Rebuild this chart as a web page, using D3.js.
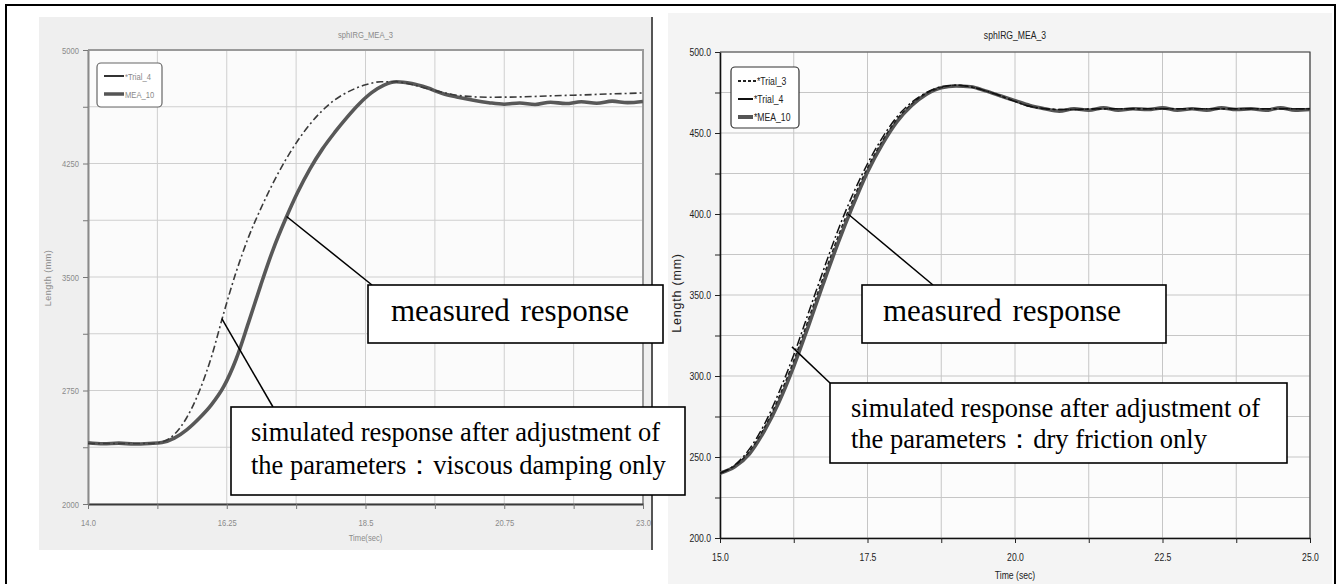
<!DOCTYPE html>
<html>
<head>
<meta charset="utf-8">
<script src="https://cdn.jsdelivr.net/npm/d3@7"></script>
<style>
body { margin: 0; background: #fff; }
svg { display: block; }
</style>
</head>
<body>
<svg id="fig" width="1341" height="584"></svg>
<script>
// ---- left chart (viscous damping) ----
const leftTitle = 'sphIRG_MEA_3';
const leftXTicks = [14.0, 15.125, 16.25, 17.375, 18.5, 19.625, 20.75, 21.875, 23.0];
const leftXLabels = ['14.0', '', '16.25', '', '18.5', '', '20.75', '', '23.0'];
const leftYTicks = [2000, 2375, 2750, 3125, 3500, 3875, 4250, 4625, 5000];
const leftYLabels = ['2000', '', '2750', '', '3500', '', '4250', '', '5000'];
const leftLegend = ['*Trial_4', 'MEA_10'];

const leftSimTime = [14.0, 14.5, 15.0, 15.2, 15.4, 15.6, 15.8, 16.0, 16.2, 16.4, 16.6, 16.8, 17.0, 17.2, 17.4, 17.6, 17.8, 18.0, 18.25, 18.5, 18.75, 19.0, 19.25, 19.5, 19.75, 20.0, 20.5, 21.0, 21.5, 22.0, 22.5, 23.0];
const leftSimLength = [2400, 2400, 2400, 2410, 2460, 2570, 2740, 2970, 3260, 3530, 3760, 3950, 4120, 4270, 4400, 4510, 4600, 4670, 4730, 4770, 4790, 4790, 4772, 4745, 4720, 4700, 4688, 4690, 4697, 4703, 4710, 4716];

const leftMeaTime = [14.0, 14.25, 14.5, 14.75, 15.0, 15.2, 15.4, 15.6, 15.8, 16.0, 16.2, 16.4, 16.6, 16.8, 17.0, 17.2, 17.4, 17.6, 17.8, 18.0, 18.2, 18.4, 18.6, 18.8, 19.0, 19.25, 19.5, 19.75, 20.0, 20.25, 20.5, 20.75, 21.0, 21.25, 21.5, 21.75, 22.0, 22.25, 22.5, 22.75, 23.0];
const leftMeaLength = [2405, 2398, 2402, 2396, 2400, 2406, 2435, 2490, 2565, 2655, 2775, 2955, 3195, 3445, 3680, 3880, 4060, 4215, 4345, 4455, 4555, 4645, 4718, 4768, 4790, 4778, 4750, 4712, 4688, 4668, 4652, 4642, 4650, 4640, 4655, 4646, 4658, 4648, 4662, 4652, 4660];

// ---- right chart (dry friction) ----
const rightTitle = 'sphIRG_MEA_3';
const rightXTicks = [15.0, 16.25, 17.5, 18.75, 20.0, 21.25, 22.5, 23.75, 25.0];
const rightXLabels = ['15.0', '', '17.5', '', '20.0', '', '22.5', '', '25.0'];
const rightYTicks = [200, 225, 250, 275, 300, 325, 350, 375, 400, 425, 450, 475, 500];
const rightYLabels = ['200.0', '', '250.0', '', '300.0', '', '350.0', '', '400.0', '', '450.0', '', '500.0'];
const rightLegend = ['*Trial_3', '*Trial_4', '*MEA_10'];

const rightSimTime = [15.0, 15.25, 15.5, 15.75, 16.0, 16.25, 16.5, 16.75, 17.0, 17.25, 17.5, 17.75, 18.0, 18.25, 18.5, 18.75, 19.0, 19.25, 19.5, 19.75, 20.0, 20.25, 20.5, 20.75, 21.0, 21.5, 22.0, 22.5, 23.0, 23.5, 24.0, 24.5, 25.0];
const rightTrial3 = [240, 244.5, 253.5, 268, 287, 309.5, 335, 361, 386, 408.5, 428.5, 445, 458.5, 468, 474.5, 478, 479.5, 478.5, 476, 473, 469.5, 466.5, 465, 464.5, 464.5, 465, 465, 465, 465, 465, 465, 465, 465];
const rightTrial4 = [240, 245, 255, 270, 290, 313, 339, 365, 390, 412, 431, 447, 460, 469, 475, 478.5, 479.5, 478.5, 476, 473, 469.5, 466.5, 465, 464.5, 464.5, 465, 465, 465, 465, 465, 465, 465, 465];

const rightMeaTime = [15.0, 15.25, 15.5, 15.75, 16.0, 16.25, 16.5, 16.75, 17.0, 17.25, 17.5, 17.75, 18.0, 18.25, 18.5, 18.75, 19.0, 19.25, 19.5, 19.75, 20.0, 20.25, 20.5, 20.75, 21.0, 21.25, 21.5, 21.75, 22.0, 22.25, 22.5, 22.75, 23.0, 23.25, 23.5, 23.75, 24.0, 24.25, 24.5, 24.75, 25.0];
const rightMea = [240, 244, 252, 266, 284, 306, 331, 357, 382, 405, 426, 443, 457, 467, 474, 478, 479, 478.5, 476, 473, 470, 467, 465, 463.5, 465, 464, 465.5, 464, 465, 464.5, 465.5, 464, 465, 464, 465.5, 464.5, 465, 464, 465.5, 464, 464.5];

const serif = '"Liberation Serif", "Times New Roman", serif';
const sans = '"Liberation Sans", Arial, sans-serif';

const svg = d3.select('#fig');

// outer frame
svg.append('rect')
    .attr('x', 6).attr('y', 5).attr('width', 1329).attr('height', 600)
    .attr('fill', 'none').attr('stroke', '#000').attr('stroke-width', 2);

function pairs(xs, ys) {
    return xs.map((t, i) => [t, ys[i]]);
}

// squeeze text horizontally to mimic the narrow plot font
function condense(sel, k) {
    sel.each(function () {
        const len = this.getComputedTextLength();
        if (len > 0) {
            d3.select(this)
                .attr('textLength', len * k)
                .attr('lengthAdjust', 'spacingAndGlyphs');
        }
    });
}

function drawPanel(p) {
    const g = svg.append('g');
    g.append('rect')
        .attr('x', p.bg[0]).attr('y', p.bg[1])
        .attr('width', p.bg[2]).attr('height', p.bg[3])
        .attr('fill', p.bgFill);

    const x = d3.scaleLinear().domain(p.xDomain).range([p.plot.x0, p.plot.x1]);
    const y = d3.scaleLinear().domain(p.yDomain).range([p.plot.y1, p.plot.y0]);
    const h = p.plot.y1 - p.plot.y0;
    const w = p.plot.x1 - p.plot.x0;

    g.append('rect')
        .attr('x', p.plot.x0).attr('y', p.plot.y0)
        .attr('width', w).attr('height', h)
        .attr('fill', p.plotFill);

    // grid
    g.append('g').selectAll('line').data(p.xTicks).join('line')
        .attr('x1', d => x(d)).attr('x2', d => x(d))
        .attr('y1', p.plot.y0).attr('y2', p.plot.y1)
        .attr('stroke', p.gridColor).attr('stroke-width', 1);
    g.append('g').selectAll('line').data(p.yTicks).join('line')
        .attr('x1', p.plot.x0).attr('x2', p.plot.x1)
        .attr('y1', d => y(d)).attr('y2', d => y(d))
        .attr('stroke', p.gridColor).attr('stroke-width', 1);

    // frame top/right
    g.append('path')
        .attr('d', `M${p.plot.x0},${p.plot.y0}H${p.plot.x1}V${p.plot.y1}`)
        .attr('fill', 'none').attr('stroke', p.frameColor).attr('stroke-width', p.frameWidth);

    // axes
    const xa = g.append('g')
        .attr('transform', `translate(0,${p.plot.y1})`)
        .call(d3.axisBottom(x).tickValues(p.xTicks)
            .tickFormat((d, i) => p.xLabels[i]).tickSize(5).tickSizeOuter(0).tickPadding(p.xPad));
    const ya = g.append('g')
        .attr('transform', `translate(${p.plot.x0},0)`)
        .call(d3.axisLeft(y).tickValues(p.yTicks)
            .tickFormat((d, i) => p.yLabels[i]).tickSize(5).tickSizeOuter(0).tickPadding(4));
    xa.select('.domain').attr('stroke', p.xAxisColor).attr('stroke-width', p.xAxisWidth);
    ya.select('.domain').attr('stroke', p.yAxisColor).attr('stroke-width', p.yAxisWidth);
    [xa, ya].forEach(a => {
        a.selectAll('.tick line').attr('stroke', p.tickColor);
        a.selectAll('.tick text')
            .attr('fill', p.textColor)
            .style('font-family', sans)
            .style('font-size', p.fontSize + 'px')
            .call(condense, p.squeeze);
    });

    // titles
    g.append('text')
        .attr('x', (p.plot.x0 + p.plot.x1) / 2).attr('y', p.titleY)
        .attr('text-anchor', 'middle')
        .attr('fill', p.textColor)
        .style('font-family', sans).style('font-size', p.fontSize + 'px')
        .text(p.title)
        .call(condense, p.squeeze);
    g.append('text')
        .attr('x', (p.plot.x0 + p.plot.x1) / 2).attr('y', p.xTitleY)
        .attr('text-anchor', 'middle')
        .attr('fill', p.textColor)
        .style('font-family', sans).style('font-size', p.fontSize + 'px')
        .text(p.xTitle)
        .call(condense, p.squeeze);
    g.append('text')
        .attr('transform', `translate(${p.yTitleX},${p.yTitleY}) rotate(-90)`)
        .attr('text-anchor', 'middle')
        .attr('fill', p.textColor)
        .style('font-family', sans).style('font-size', p.yTitleSize + 'px')
        .style('letter-spacing', p.yTitleSpacing + 'px')
        .text('Length (mm)');

    // series
    const line = d3.line().x(d => x(d[0])).y(d => y(d[1])).curve(d3.curveMonotoneX);
    const clipId = 'clip' + p.id;
    g.append('clipPath').attr('id', clipId).append('rect')
        .attr('x', p.plot.x0).attr('y', p.plot.y0).attr('width', w).attr('height', h);
    p.series.forEach(s => {
        g.append('path')
            .datum(s.data)
            .attr('clip-path', `url(#${clipId})`)
            .attr('d', line)
            .attr('fill', 'none')
            .attr('stroke', s.color)
            .attr('stroke-width', s.width)
            .attr('stroke-dasharray', s.dash || null)
            .attr('stroke-linejoin', 'round');
    });

    // legend
    const lg = p.legend;
    g.append('rect')
        .attr('x', lg.x).attr('y', lg.y).attr('width', lg.w).attr('height', lg.h)
        .attr('rx', 4).attr('fill', '#fff')
        .attr('stroke', lg.stroke).attr('stroke-width', 1.2);
    lg.items.forEach((it, i) => {
        const yy = lg.y + lg.first + i * lg.step;
        g.append('line')
            .attr('x1', lg.x + 7).attr('x2', lg.x + 7 + it.len)
            .attr('y1', yy).attr('y2', yy)
            .attr('stroke', it.color).attr('stroke-width', it.width)
            .attr('stroke-dasharray', it.dash || null);
        g.append('text')
            .attr('x', lg.x + 8 + it.len).attr('y', yy + 4)
            .attr('fill', p.textColor)
            .style('font-family', sans).style('font-size', lg.fontSize + 'px')
            .text(it.label)
            .call(condense, p.squeeze);
    });

    return { x, y };
}

function drawNote(scales, n) {
    const g = svg.append('g');
    g.append('line')
        .attr('x1', scales.x(n.anchor[0])).attr('y1', scales.y(n.anchor[1]))
        .attr('x2', n.end[0]).attr('y2', n.end[1])
        .attr('stroke', '#000').attr('stroke-width', 1.5);
    g.append('rect')
        .attr('x', n.box[0]).attr('y', n.box[1]).attr('width', n.box[2]).attr('height', n.box[3])
        .attr('fill', '#fff').attr('stroke', '#000').attr('stroke-width', 1.6);
    n.lines.forEach((t, i) => {
        g.append('text')
            .attr('x', n.textX).attr('y', n.baseline + i * n.lineGap)
            .style('font-family', serif).style('font-size', n.size + 'px')
            .style('word-spacing', (n.wordSpacing || 0) + 'px')
            .attr('fill', '#000')
            .text(t);
    });
}

const left = drawPanel({
    id: 'L',
    bg: [39, 17, 613, 533], bgFill: '#efefef', plotFill: '#fbfbfb',
    plot: { x0: 88, x1: 643, y0: 50, y1: 504 },
    xDomain: [14, 23], yDomain: [2000, 5000],
    xTicks: leftXTicks, xLabels: leftXLabels, yTicks: leftYTicks, yLabels: leftYLabels,
    gridColor: '#cfcfcf', frameColor: '#9a9a9a', frameWidth: 2,
    xAxisColor: '#3a3a3a', xAxisWidth: 2.2, yAxisColor: '#8a8a8a', yAxisWidth: 2,
    tickColor: '#777', textColor: '#8a8a8a', fontSize: 9.5, squeeze: 0.8, xPad: 10,
    title: leftTitle, titleY: 38, xTitle: 'Time(sec)', xTitleY: 541,
    yTitleX: 51, yTitleY: 278, yTitleSize: 9, yTitleSpacing: 0.5,
    series: [
        { data: pairs(leftMeaTime, leftMeaLength), color: '#585858', width: 3.6 },
        { data: pairs(leftSimTime, leftSimLength), color: '#3a3a3a', width: 1.6, dash: '7,3,2,3' }
    ],
    legend: {
        x: 97, y: 63, w: 65, h: 44, stroke: '#666', first: 13, step: 18, fontSize: 9.5,
        items: [
            { label: leftLegend[0], color: '#333', width: 2, len: 20 },
            { label: leftLegend[1], color: '#555', width: 3.5, len: 20 }
        ]
    }
});

// dark seam on the right edge of the left screenshot
svg.append('line')
    .attr('x1', 652).attr('x2', 652).attr('y1', 17).attr('y2', 550)
    .attr('stroke', '#555').attr('stroke-width', 2);

const right = drawPanel({
    id: 'R',
    bg: [668, 13, 664, 575], bgFill: '#f4f4f4', plotFill: '#fcfcfc',
    plot: { x0: 720, x1: 1310, y0: 52, y1: 538 },
    xDomain: [15, 25], yDomain: [200, 500],
    xTicks: rightXTicks, xLabels: rightXLabels, yTicks: rightYTicks, yLabels: rightYLabels,
    gridColor: '#c6c6c6', frameColor: '#444', frameWidth: 1.2,
    xAxisColor: '#111', xAxisWidth: 1.6, yAxisColor: '#111', yAxisWidth: 1.6,
    tickColor: '#222', textColor: '#222', fontSize: 11.5, squeeze: 0.75, xPad: 10,
    title: rightTitle, titleY: 39, xTitle: 'Time (sec)', xTitleY: 579,
    yTitleX: 681, yTitleY: 293, yTitleSize: 12.5, yTitleSpacing: 0.8,
    series: [
        { data: pairs(rightMeaTime, rightMea), color: '#555', width: 3.6 },
        { data: pairs(rightSimTime, rightTrial3), color: '#222', width: 1.5, dash: '4,2.5' },
        { data: pairs(rightSimTime, rightTrial4), color: '#111', width: 1.5, dash: '9,3,2,3' }
    ],
    legend: {
        x: 731, y: 67, w: 68, h: 61, stroke: '#333', first: 14, step: 18, fontSize: 11.5,
        items: [
            { label: rightLegend[0], color: '#222', width: 1.8, len: 18, dash: '3,2' },
            { label: rightLegend[1], color: '#111', width: 2, len: 15 },
            { label: rightLegend[2], color: '#555', width: 4, len: 15 }
        ]
    }
});

drawNote(left, {
    anchor: [17.22, 3900], end: [372, 285],
    box: [368, 285, 295, 58], lines: ['measured response'],
    textX: 391, baseline: 321, size: 31, lineGap: 0, wordSpacing: 3
});
drawNote(left, {
    anchor: [16.17, 3225], end: [273, 407],
    box: [231, 407, 454, 88],
    lines: ['simulated response after adjustment of', 'the parameters：viscous damping only'],
    textX: 251, baseline: 441, size: 26.5, lineGap: 33
});
drawNote(right, {
    anchor: [17.17, 400], end: [933, 285],
    box: [862, 285, 304, 58], lines: ['measured response'],
    textX: 883, baseline: 321, size: 31, lineGap: 0, wordSpacing: 3
});
drawNote(right, {
    anchor: [16.22, 318], end: [830, 383],
    box: [830, 383, 457, 80],
    lines: ['simulated response after adjustment of', 'the parameters：dry friction only'],
    textX: 851, baseline: 417, size: 26.5, lineGap: 31
});
</script>
</body>
</html>
